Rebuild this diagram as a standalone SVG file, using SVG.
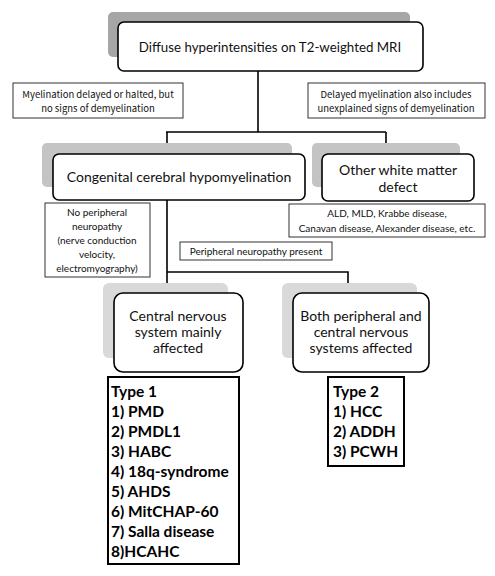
<svg xmlns="http://www.w3.org/2000/svg" width="495" height="576" viewBox="0 0 495 576">
<style>
.bg{fill:#ffffff}
.sh1{fill:#a6a6a6}
.sh2{fill:#c4c4c4}
.sh3{fill:#d9d9d9}
.box{fill:#ffffff;stroke:#000;stroke-width:1.6}
.lbl{fill:#ffffff;stroke:#333;stroke-width:1}
.tbox{fill:#ffffff;stroke:#000;stroke-width:2}
.t{font-family:Lato,"Liberation Sans",sans-serif;fill:#111;text-anchor:middle}
.s{font-family:"Noto Sans CJK JP","Liberation Sans",sans-serif;fill:#111;text-anchor:middle;font-size:9.5px}
.b{font-family:Lato,"Liberation Sans",sans-serif;font-weight:bold;fill:#000;font-size:15.5px}
.c{fill:none;stroke:#000;stroke-width:1.6}
</style>
<rect class="bg" width="495" height="576"/>
<g id="connectors">
<path class="c" d="M258 71 V132 M166 132 H386 M167 132 V154 M386 132 V143"/>
<path class="c" d="M167 200 V272 H348 V283 M167 272 V283"/>
</g>
<g id="top">
<rect class="sh1" x="108" y="12" width="302" height="45" rx="5"/>
<rect class="box" x="118" y="22" width="305" height="49" rx="6"/>
<text class="t" x="270" y="52" font-size="13.3">Diffuse hyperintensities on T2-weighted MRI</text>
</g>
<g id="lblLeft">
<rect class="lbl" x="13" y="83" width="170" height="35"/>
<text class="s" x="98" y="98">Myelination delayed or halted, but</text>
<text class="s" x="98" y="112">no signs of demyelination</text>
</g>
<g id="lblRight">
<rect class="lbl" x="308" y="83" width="177" height="35"/>
<text class="s" x="396" y="98">Delayed myelination also includes</text>
<text class="s" x="396" y="112">unexplained signs of demyelination</text>
</g>
<g id="congenital">
<rect class="sh2" x="42" y="143" width="250" height="44" rx="5"/>
<rect class="box" x="53" y="154" width="252" height="46" rx="6"/>
<text class="t" x="179" y="182" font-size="14">Congenital cerebral hypomyelination</text>
</g>
<g id="other">
<rect class="sh2" x="312" y="143" width="148" height="44" rx="5"/>
<rect class="box" x="322" y="154" width="152" height="47" rx="6"/>
<text class="t" x="398" y="175" font-size="14">Other white matter</text>
<text class="t" x="398" y="192" font-size="14">defect</text>
</g>
<g id="ald">
<rect class="lbl" x="289" y="204" width="196" height="33"/>
<text class="t" x="387" y="217" font-size="10">ALD, MLD, Krabbe disease,</text>
<text class="t" x="387" y="232" font-size="10">Canavan disease,  Alexander disease,  etc.</text>
</g>
<g id="noPeripheral">
<rect class="lbl" x="45" y="203" width="105" height="74"/>
<text class="t" x="97" y="216" font-size="10">No peripheral</text>
<text class="t" x="97" y="230" font-size="10">neuropathy</text>
<text class="t" x="97" y="244" font-size="10">(nerve conduction</text>
<text class="t" x="97" y="258" font-size="10">velocity,</text>
<text class="t" x="97" y="272" font-size="10">electromyography)</text>
</g>
<g id="periph">
<rect class="lbl" x="180" y="242" width="152" height="18"/>
<text class="t" x="256" y="255" font-size="10">Peripheral neuropathy present</text>
</g>
<g id="central">
<rect class="sh3" x="103" y="283" width="125" height="75" rx="6"/>
<rect class="box" x="114" y="293" width="129" height="79" rx="9"/>
<text class="t" x="178" y="321" font-size="14">Central nervous</text>
<text class="t" x="178" y="337" font-size="14">system mainly</text>
<text class="t" x="178" y="353" font-size="14">affected</text>
</g>
<g id="both">
<rect class="sh3" x="282" y="283" width="135" height="75" rx="6"/>
<rect class="box" x="293" y="293" width="136" height="79" rx="9"/>
<text class="t" x="361" y="321" font-size="14">Both peripheral and</text>
<text class="t" x="361" y="337" font-size="14">central nervous</text>
<text class="t" x="361" y="353" font-size="14">systems affected</text>
</g>
<g id="type1">
<rect class="tbox" x="108" y="377" width="131" height="187"/>
<text class="b" x="111" y="397">Type 1</text>
<text class="b" x="111" y="417">1) PMD</text>
<text class="b" x="111" y="437">2) PMDL1</text>
<text class="b" x="111" y="457">3) HABC</text>
<text class="b" x="111" y="477">4) 18q-syndrome</text>
<text class="b" x="111" y="497">5) AHDS</text>
<text class="b" x="111" y="517">6) MitCHAP-60</text>
<text class="b" x="111" y="537">7) Salla disease</text>
<text class="b" x="111" y="557">8)HCAHC</text>
</g>
<g id="type2">
<rect class="tbox" x="328" y="377" width="76" height="89"/>
<text class="b" x="333" y="397">Type 2</text>
<text class="b" x="333" y="417">1) HCC</text>
<text class="b" x="333" y="437">2) ADDH</text>
<text class="b" x="333" y="457">3) PCWH</text>
</g>
</svg>
